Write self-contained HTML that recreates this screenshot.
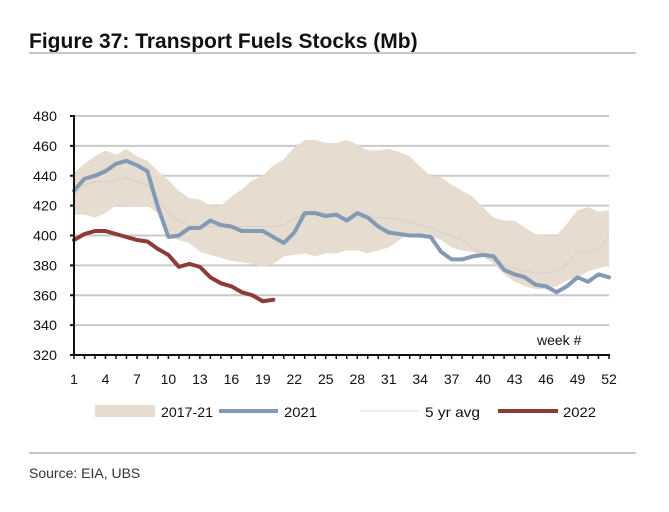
<!DOCTYPE html>
<html><head><meta charset="utf-8">
<style>
body{margin:0;background:#fff;width:669px;height:507px;overflow:hidden;font-family:"Liberation Sans",sans-serif;}
</style></head>
<body>
<svg width="669" height="507" xmlns="http://www.w3.org/2000/svg">
<text x="29" y="48" font-size="21" font-weight="bold" fill="#111">Figure 37: Transport Fuels Stocks (Mb)</text>
<line x1="29" y1="53" x2="636" y2="53" stroke="#c8c8c8" stroke-width="2"/>
<g id="grid"></g>
<g id="band"></g>
<g id="lines"></g>
<g id="axes"></g>
<text x="537" y="345" font-size="14" fill="#111">week #</text>
<g font-size="14" fill="#111">
<g><rect x="95" y="405" width="60" height="12" fill="#e6dccf"/><text x="161" y="417" textLength="52" lengthAdjust="spacingAndGlyphs">2017-21</text></g>
<g><line x1="219" y1="411" x2="278" y2="411" stroke="#8499b5" stroke-width="4"/><text x="284" y="417" textLength="33" lengthAdjust="spacingAndGlyphs">2021</text></g>
<g><line x1="360" y1="411" x2="419" y2="411" stroke="#ddd" stroke-width="1"/><text x="425" y="417" textLength="55" lengthAdjust="spacingAndGlyphs">5 yr avg</text></g>
<g><line x1="498" y1="411" x2="558" y2="411" stroke="#8e3a37" stroke-width="4"/><text x="563" y="417" textLength="33" lengthAdjust="spacingAndGlyphs">2022</text></g>
</g>
<line x1="29" y1="453" x2="636" y2="453" stroke="#c8c8c8" stroke-width="2"/>
<text x="29" y="478" font-size="14" fill="#333">Source: EIA, UBS</text>
</svg>
<script>
const weeks=[];for(let i=1;i<=52;i++)weeks.push(i);
const yTicks=[320,340,360,380,400,420,440,460,480];
const xTicks=[1,4,7,10,13,16,19,22,25,28,31,34,37,40,43,46,49,52];
const bandUpper=[442,448,453,457,454,458,453,450,443,437,430,425,424,420,420,426,431,437,440,447,451,459,464,464,462,462,464,461,457,457,458,456,453,446,440,439,434,430,426,419,412,410,410,405,401,400,400,408,417,419,416,417];
const bandLower=[414,414,412,415,420,420,419,420,415,399,397,395,389,387,385,383,382,381,379,381,386,387,388,386,388,388,390,390,388,390,392,397,401,401,399,397,392,390,389,386,381,374,369,366,364,364,366,370,372,376,378,380];
const avg5=[427,434,436,436,437,439,436,434,424,415,410,407,406,406,406,406,406,406,406,406,407,411,415,416,415,414,412,412,412,412,412,411,409,407,405,402,400,397,392,388,384,380,378,376,375,375,376,381,389,389,391,399];
const s2021=[430,438,440,443,448,450,447,443,419,399,400,405,405,410,407,406,403,403,403,399,395,402,415,415,413,414,410,415,412,406,402,401,400,400,399,389,384,384,386,387,386,377,374,372,367,366,362,366,372,369,374,372];
const s2022=[397,401,403,403,401,399,397,396,391,387,379,381,379,372,368,366,362,360,356,357];
const NS="http://www.w3.org/2000/svg";
const x0=74,x1=609,yTop=116,yBot=355;
const X=w=>x0+(w-1)*(x1-x0)/51;
const Y=v=>yBot-(v-320)*(yBot-yTop)/160;
function mk(t,a,p){const e=document.createElementNS(NS,t);for(const k in a)e.setAttribute(k,a[k]);p.appendChild(e);return e;}
const grid=document.getElementById('grid'),band=document.getElementById('band'),lines=document.getElementById('lines'),axes=document.getElementById('axes');
yTicks.forEach(v=>{
 if(v>320){const g=mk('line',{x1:x0,x2:x1,y1:Y(v),y2:Y(v),stroke:'#c9c9c9','stroke-width':2},grid);
 
 }
 const t=mk('text',{x:57,y:Y(v)+5,'font-size':14,'text-anchor':'end',fill:'#111',textLength:24,lengthAdjust:'spacingAndGlyphs'},axes);t.textContent=v;
 
 
 mk('line',{x1:x0-4,x2:x0,y1:Y(v),y2:Y(v),stroke:'#111','stroke-width':2},axes);
});
let d='M'+weeks.map(w=>X(w)+','+Y(bandUpper[w-1])).join('L');
for(let i=weeks.length-1;i>=0;i--)d+='L'+X(weeks[i])+','+Y(bandLower[i]);
const bp=mk('path',{d:d+'Z',fill:'#e6dccf'},band);


function line(arr,col,w,name){const p=mk('path',{d:'M'+arr.map((v,i)=>X(i+1)+','+Y(v)).join('L'),fill:'none',stroke:col,'stroke-width':w,'stroke-linejoin':'round','stroke-linecap':'round'},lines);
 
 }
line(avg5,'#d5d0cc',1,'line-5yr-avg');
line(s2021,'#8499b5',4,'line-2021');
line(s2022,'#8e3a37',4,'line-2022');
const ya=mk('line',{x1:x0,x2:x0,y1:yTop-1,y2:yBot,stroke:'#111','stroke-width':2},axes);


const xa=mk('line',{x1:x0-4,x2:x1+1,y1:yBot,y2:yBot,stroke:'#111','stroke-width':2},axes);


weeks.forEach(w=>mk('line',{x1:X(w),x2:X(w),y1:yBot,y2:yBot+4,stroke:'#111','stroke-width':1.5},axes));
xTicks.forEach(w=>{const t=mk('text',{x:X(w),y:384,'font-size':14,'text-anchor':'middle',fill:'#111'},axes);t.textContent=w;
 
 });
</script>
</body></html>
